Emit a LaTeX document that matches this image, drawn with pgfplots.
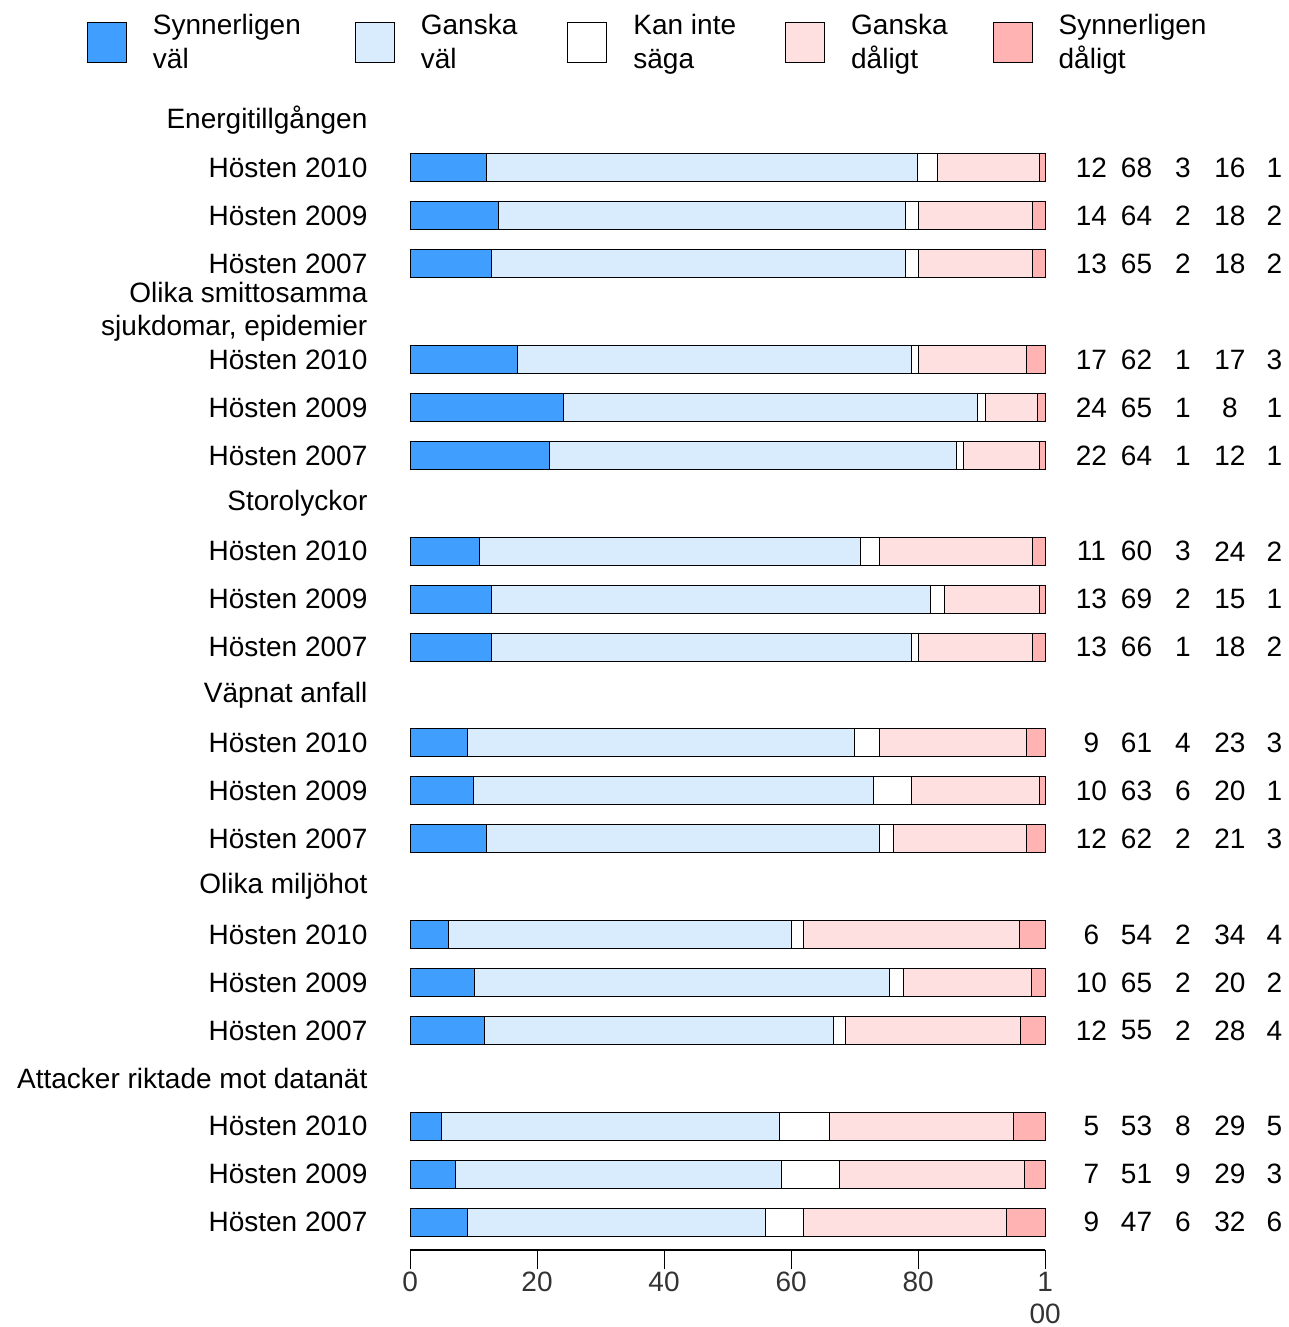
\documentclass[border=0pt]{standalone}
\usepackage{pgfplots}
\pgfplotsset{compat=1.18}
\usepackage{fontspec}
\setmainfont{Liberation Sans}
\definecolor{c1}{RGB}{64,158,255}
\definecolor{c2}{RGB}{216,236,253}
\definecolor{c3}{RGB}{255,255,255}
\definecolor{c4}{RGB}{255,224,224}
\definecolor{c5}{RGB}{255,179,179}
\newcommand{\lf}{\fontsize{14}{16.5}\selectfont}
\newcommand{\lent}[2]{\raisebox{4.75pt}{\begin{tabular}{@{}l@{}}#1\\#2\end{tabular}}}
\pgfplotsset{
  mylegend/.style={legend image code/.code={\draw[##1, line width=0.5pt] (0pt,-12.5pt) rectangle (19.5pt,7.5pt); \path (32.5pt,0pt);}},
}
\tikzset{numlab/.style={font=\lf, text=black}}
\begin{document}
\begin{tikzpicture}
\begin{axis}[
  scale only axis, width=317.5pt, height=625pt,
  xmin=0, xmax=100, ymin=-23.59, ymax=2.5,
  xbar stacked, bar width=14pt,
  clip=false,
  axis x line*=bottom,
  axis y line*=left,
  y axis line style={draw=none},
  x axis line style={-, line width=1pt},
  xtick={0,20,40,60,80,100},
  xticklabels={0,20,40,60,80,{1\\00}},
  xticklabel style={align=center, font=\fontsize{14}{16}\selectfont, text=black!80, yshift=2pt},
  xtick align=outside,
  ytick align=inside,
  major tick length=9.5pt,
  xtick style={black, line width=0.5pt},
  ytick style={draw=none},
  ytick={-23,...,0},
  yticklabels={Hösten 2007, Hösten 2009, Hösten 2010, Attacker riktade mot datanät, Hösten 2007, Hösten 2009, Hösten 2010, Olika miljöhot, Hösten 2007, Hösten 2009, Hösten 2010, Väpnat anfall, Hösten 2007, Hösten 2009, Hösten 2010, Storolyckor, Hösten 2007, Hösten 2009, Hösten 2010, {Olika smittosamma\\sjukdomar, epidemier}, Hösten 2007, Hösten 2009, Hösten 2010, Energitillgången},
  yticklabel style={font=\lf, align=right, text=black, xshift=-17.8pt},
  legend columns=5,
  legend cell align=left,
  legend style={draw=none, fill=none, inner sep=0pt, outer sep=0pt, column sep=0pt, row sep=0pt,
    at={(-0.5087,0.9702)}, anchor=west, font=\fontsize{14}{17}\selectfont,
    nodes={inner sep=0pt, outer sep=0pt}},
]
\addplot[fill=c1, draw=black, line width=0.5pt, mylegend] coordinates {
(12.0,-1) (14.0,-2) (12.9,-3)
(16.9,-5) (24.1,-6) (21.9,-7)
(10.9,-9) (12.9,-10) (12.9,-11)
(9.0,-13) (10.0,-14) (12.0,-15)
(6.0,-17) (10.2,-18) (11.8,-19)
(5.0,-21) (7.2,-22) (9.0,-23)};
\addlegendentry{\lent{Synnerligen}{väl}\rule{27pt}{0pt}}
\addplot[fill=c2, draw=black, line width=0.5pt, mylegend] coordinates {
(67.9,-1) (64.0,-2) (65.1,-3)
(62.1,-5) (65.3,-6) (64.1,-7)
(60.1,-9) (69.1,-10) (66.1,-11)
(61.0,-13) (63.0,-14) (62.0,-15)
(54.1,-17) (65.3,-18) (54.9,-19)
(53.1,-21) (51.3,-22) (47.0,-23)};
\addlegendentry{\lent{Ganska}{väl}\rule{25pt}{0pt}}
\addplot[fill=c3, draw=black, line width=0.5pt, mylegend] coordinates {
(3.2,-1) (2.0,-2) (2.0,-3)
(1.0,-5) (1.2,-6) (1.1,-7)
(3.0,-9) (2.1,-10) (1.0,-11)
(4.0,-13) (6.0,-14) (2.1,-15)
(1.9,-17) (2.2,-18) (1.8,-19)
(7.9,-21) (9.1,-22) (6.0,-23)};
\addlegendentry{\lent{Kan inte}{säga}\rule{24.5pt}{0pt}}
\addplot[fill=c4, draw=black, line width=0.5pt, mylegend] coordinates {
(16.0,-1) (18.0,-2) (18.0,-3)
(17.0,-5) (8.2,-6) (12.0,-7)
(24.0,-9) (15.0,-10) (18.0,-11)
(23.0,-13) (20.1,-14) (20.9,-15)
(34.0,-17) (20.1,-18) (27.7,-19)
(29.0,-21) (29.1,-22) (32.0,-23)};
\addlegendentry{\lent{Ganska}{dåligt}\rule{22.5pt}{0pt}}
\addplot[fill=c5, draw=black, line width=0.5pt, mylegend] coordinates {
(0.9,-1) (2.0,-2) (2.0,-3)
(3.0,-5) (1.2,-6) (0.9,-7)
(2.0,-9) (0.9,-10) (2.0,-11)
(3.0,-13) (0.9,-14) (3.0,-15)
(4.0,-17) (2.2,-18) (3.8,-19)
(5.0,-21) (3.3,-22) (6.0,-23)};
\addlegendentry{\lent{Synnerligen}{dåligt}}
\foreach \r/\a/\b/\c/\d/\e in {1/12/68/3/16/1, 2/14/64/2/18/2, 3/13/65/2/18/2,
  5/17/62/1/17/3, 6/24/65/1/8/1, 7/22/64/1/12/1,
  9/11/60/3/24/2, 10/13/69/2/15/1, 11/13/66/1/18/2,
  13/9/61/4/23/3, 14/10/63/6/20/1, 15/12/62/2/21/3,
  17/6/54/2/34/4, 18/10/65/2/20/2, 19/12/55/2/28/4,
  21/5/53/8/29/5, 22/7/51/9/29/3, 23/9/47/6/32/6}{
  \edef\tmp{
    \noexpand\node[numlab] at (axis cs:107.3,-\r) {\a};
    \noexpand\node[numlab] at (axis cs:114.4,-\r) {\b};
    \noexpand\node[numlab] at (axis cs:121.7,-\r) {\c};
    \noexpand\node[numlab] at (axis cs:129.1,-\r) {\d};
    \noexpand\node[numlab] at (axis cs:136.1,-\r) {\e};
  }
  \tmp
}
\coordinate (bbsw) at (axis cs:-64.57,-25.19);
\coordinate (bbne) at (axis cs:138.27,2.505);
\end{axis}
\pgfresetboundingbox
\path[use as bounding box] (bbsw) rectangle (bbne);
\end{tikzpicture}
\end{document}
